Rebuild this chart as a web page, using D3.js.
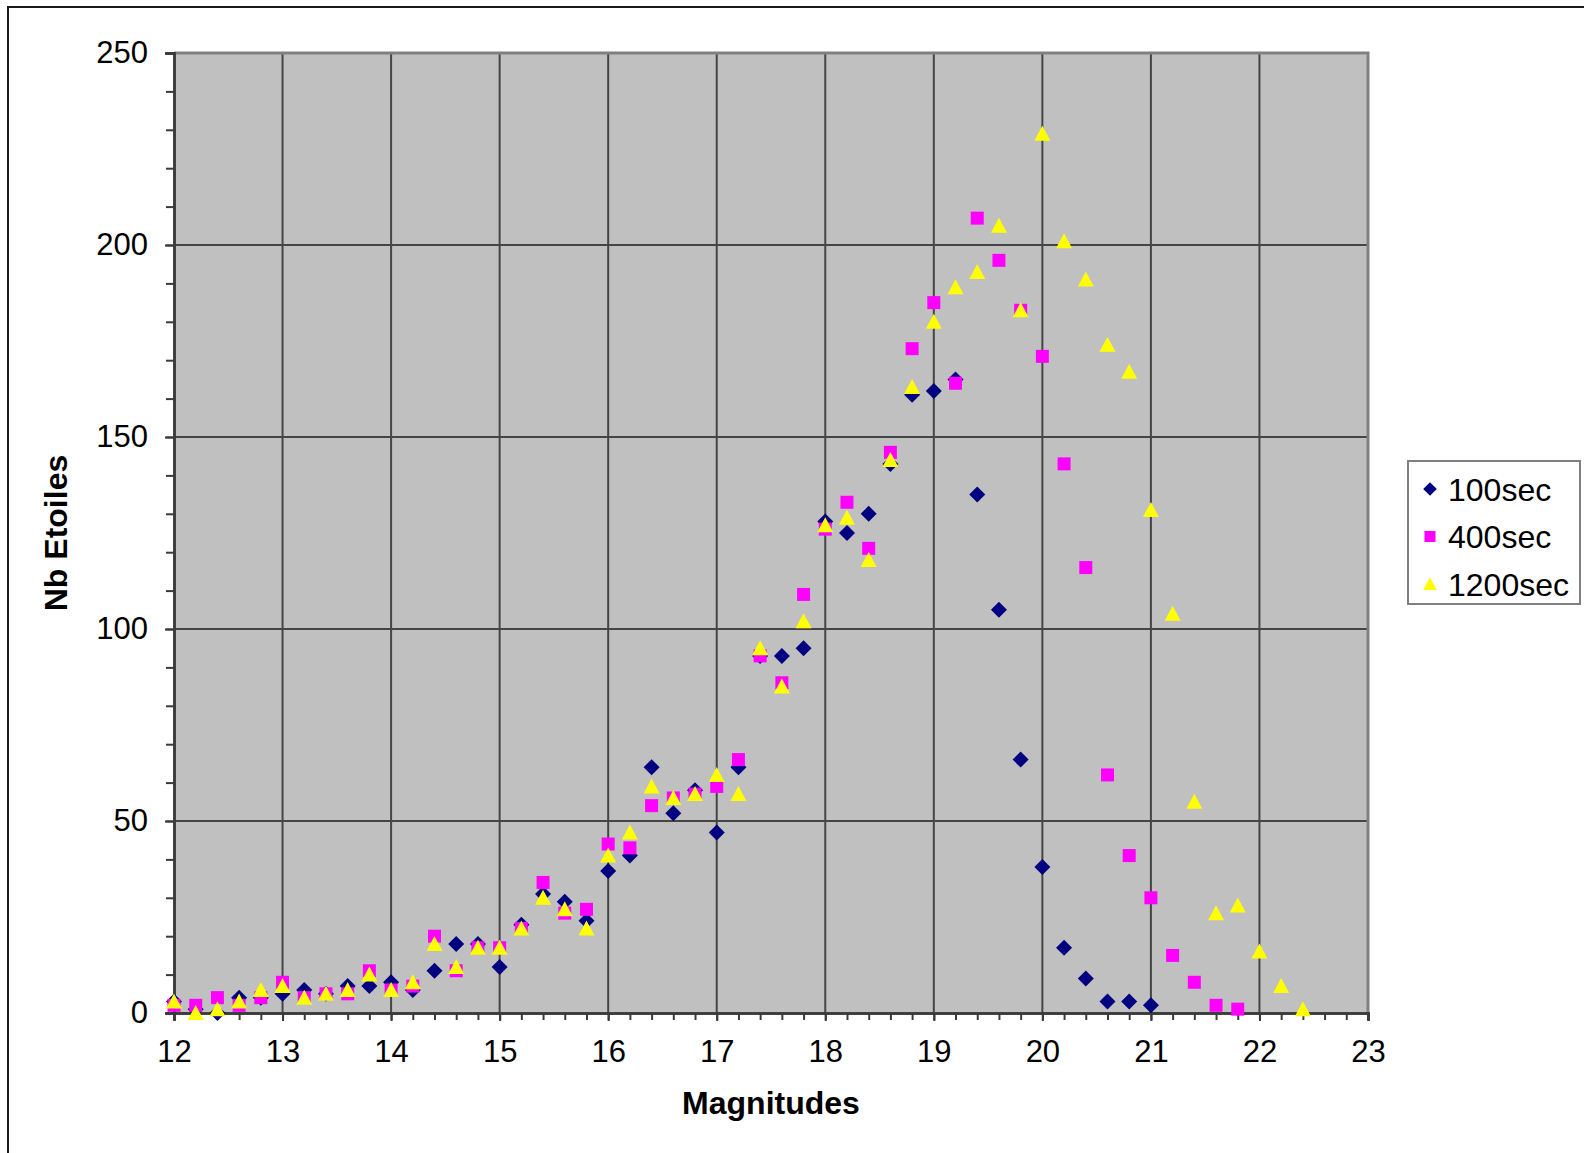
<!DOCTYPE html>
<html lang="fr">
<head>
  <meta charset="UTF-8">
  <title>Nb Etoiles / Magnitudes</title>
  <script src="https://d3js.org/d3.v7.min.js"></script>
  <style>
    body { margin: 0; background: #fff; }
    text { font-family: "Liberation Sans", Arial, sans-serif; fill: #000; }
  </style>
</head>
<body>

<div id="chart"></div>

<script>

// magnitudes (x) for each series
const mags100 = [12.0,12.2,12.4,12.6,12.8,13.0,13.2,13.4,13.6,13.8,14.0,14.2,14.4,14.6,14.8,15.0,15.2,15.4,15.6,15.8,
  16.0,16.2,16.4,16.6,16.8,17.0,17.2,17.4,17.6,17.8,18.0,18.2,18.4,18.6,18.8,19.0,19.2,19.4,19.6,19.8,
  20.0,20.2,20.4,20.6,20.8,21.0];
const mags400 = [12.0,12.2,12.4,12.6,12.8,13.0,13.2,13.4,13.6,13.8,14.0,14.2,14.4,14.6,14.8,15.0,15.2,15.4,15.6,15.8,
  16.0,16.2,16.4,16.6,16.8,17.0,17.2,17.4,17.6,17.8,18.0,18.2,18.4,18.6,18.8,19.0,19.2,19.4,19.6,19.8,
  20.0,20.2,20.4,20.6,20.8,21.0,21.2,21.4,21.6,21.8];
const mags1200 = [12.0,12.2,12.4,12.6,12.8,13.0,13.2,13.4,13.6,13.8,14.0,14.2,14.4,14.6,14.8,15.0,15.2,15.4,15.6,15.8,
  16.0,16.2,16.4,16.6,16.8,17.0,17.2,17.4,17.6,17.8,18.0,18.2,18.4,18.6,18.8,19.0,19.2,19.4,19.6,19.8,
  20.0,20.2,20.4,20.6,20.8,21.0,21.2,21.4,21.6,21.8,22.0,22.2,22.4];

// star counts
const stars100 = [3,1,0,4,4,5,6,5,7,7,8,6,11,18,18,12,23,31,29,24,
  37,41,64,52,58,47,64,93,93,95,128,125,130,143,161,162,165,135,105,66,
  38,17,9,3,3,2];
const stars400 = [2,2,4,2,4,8,4,5,5,11,6,7,20,11,17,17,22,34,26,27,
  44,43,54,56,57,59,66,93,86,109,126,133,121,146,173,185,164,207,196,183,
  171,143,116,62,41,30,15,8,2,1];
const stars1200 = [3,0,1,3,6,7,4,5,6,10,6,8,18,12,17,17,22,30,27,22,
  41,47,59,56,57,62,57,95,85,102,127,129,118,144,163,180,189,193,205,183,
  229,201,191,174,167,131,104,55,26,28,16,7,1];

const seriesNames = ["100sec", "400sec", "1200sec"];
const xTicks = [12,13,14,15,16,17,18,19,20,21,22,23];
const yTicks = [0,50,100,150,200,250];

const W = 1584, H = 1153;
const margin = {top: 53, right: 216, bottom: 140, left: 174};
const gw = W - margin.left - margin.right;
const gh = H - margin.top - margin.bottom;

const svg = d3.select("#chart").append("svg")
  .attr("width", W)
  .attr("height", H);

// outer chart frame (runs off the right and bottom edge)
svg.append("rect")
  .attr("x", 8).attr("y", 7)
  .attr("width", W + 20).attr("height", H + 20)
  .attr("fill", "#fff")
  .attr("stroke", "#1a1a1a")
  .attr("stroke-width", 2);

const graph = svg.append("g")
  .attr("transform", `translate(${margin.left},${margin.top})`);

const x = d3.scaleLinear().domain([12, 23]).range([0, gw]);
const y = d3.scaleLinear().domain([0, 250]).range([gh, 0]);

graph.append("rect")
  .attr("width", gw).attr("height", gh)
  .attr("fill", "#c0c0c0");

// grid
graph.selectAll(".vgrid").data(xTicks.slice(1, -1)).enter().append("line")
  .attr("x1", d => x(d)).attr("x2", d => x(d))
  .attr("y1", 0).attr("y2", gh)
  .attr("stroke", "#454545").attr("stroke-width", 2);

graph.selectAll(".hgrid").data(yTicks.slice(1, -1)).enter().append("line")
  .attr("x1", 0).attr("x2", gw)
  .attr("y1", d => y(d)).attr("y2", d => y(d))
  .attr("stroke", "#454545").attr("stroke-width", 2);

// plot border top / right
graph.append("path")
  .attr("d", `M0,0H${gw}V${gh}`)
  .attr("fill", "none")
  .attr("stroke", "#808080")
  .attr("stroke-width", 3);

// axes
const minorX = d3.range(60).map(i => 12 + i * 0.2).filter(v => v <= 23.001);
const minorY = d3.range(26).map(i => i * 10);

const xMinorG = graph.append("g")
  .attr("transform", `translate(0,${gh})`)
  .call(d3.axisBottom(x).tickValues(minorX).tickSize(7).tickFormat(""));
const xAxisG = graph.append("g")
  .attr("transform", `translate(0,${gh})`)
  .call(d3.axisBottom(x).tickValues(xTicks).tickSize(8).tickPadding(19).tickFormat(d3.format("d")));

const yMinorG = graph.append("g")
  .call(d3.axisLeft(y).tickValues(minorY).tickSize(8).tickFormat(""));
const yAxisG = graph.append("g")
  .call(d3.axisLeft(y).tickValues(yTicks).tickSize(9).tickPadding(17));

[xMinorG, xAxisG, yMinorG, yAxisG].forEach(g => {
  g.select(".domain").attr("stroke", "#3a3a3a").attr("stroke-width", 2.5);
  g.selectAll(".tick line").attr("stroke", "#3a3a3a").attr("stroke-width", 2);
});
[xAxisG, yAxisG].forEach(g => {
  g.selectAll("text")
    .attr("font-size", 31)
    .attr("font-family", "'Liberation Sans', Arial, sans-serif")
    .attr("fill", "#000");
});

// axis titles
svg.append("text")
  .attr("x", margin.left + gw / 2)
  .attr("y", 1114)
  .attr("text-anchor", "middle")
  .attr("font-size", 32)
  .attr("font-weight", "bold")
  .text("Magnitudes");

svg.append("text")
  .attr("transform", `translate(67,${margin.top + gh / 2}) rotate(-90)`)
  .attr("text-anchor", "middle")
  .attr("font-size", 32)
  .attr("font-weight", "bold")
  .text("Nb Etoiles");

// markers
const diamond = "M0,-8L8,0L0,8L-8,0Z";
const square = "M-6.5,-6.5H6.5V6.5H-6.5Z";
const triangle = "M0,-8L8,7H-8Z";

const series = [
  {name: seriesNames[0], xs: mags100, ys: stars100, shape: diamond, color: "#000080"},
  {name: seriesNames[1], xs: mags400, ys: stars400, shape: square, color: "#ff00ff"},
  {name: seriesNames[2], xs: mags1200, ys: stars1200, shape: triangle, color: "#ffff00"}
];

series.forEach(s => {
  graph.append("g").selectAll("path")
    .data(s.xs.map((m, i) => ({m: m, n: s.ys[i]})))
    .enter().append("path")
      .attr("d", s.shape)
      .attr("transform", d => `translate(${x(d.m)},${y(d.n)})`)
      .attr("fill", s.color);
});

// legend
const legend = svg.append("g").attr("transform", "translate(1408,461)");
legend.append("rect")
  .attr("width", 172).attr("height", 143)
  .attr("fill", "#fff")
  .attr("stroke", "#808080")
  .attr("stroke-width", 2);

const items = legend.selectAll(".item").data(series).enter().append("g")
  .attr("transform", (d, i) => `translate(0,${28 + i * 47.5})`);
items.append("path")
  .attr("d", d => d.shape)
  .attr("transform", "translate(22,0) scale(0.85)")
  .attr("fill", d => d.color);
items.append("text")
  .attr("x", 40)
  .attr("dy", "0.36em")
  .attr("font-size", 32)
  .text(d => d.name);

</script>
</body>
</html>
